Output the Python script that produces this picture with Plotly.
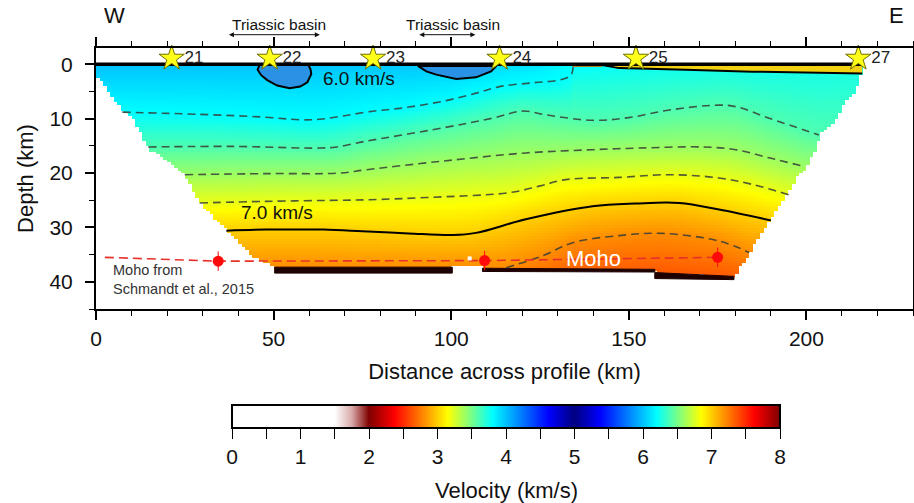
import numpy as np
import plotly.graph_objects as go

# ---------------- data ----------------
station_x = [21.3, 48.9, 78.0, 113.6, 152.0, 214.6]
station_lbl = ["21", "22", "23", "24", "25", "27"]
station_d = -1.1

# isovelocity lines (distance km, depth km)
c62_x = [7.4, 29, 47, 57.5, 63, 69.5, 77, 85.5, 97.6, 107, 113.6, 122.9, 130.4, 133.7, 134.3]
c62_d = [8.8, 9.2, 9.7, 10.2, 10.1, 9.5, 8.7, 8.1, 6.8, 5.3, 4.1, 3.4, 2.9, 2.0, 0.5]
c64_x = [14.7, 38.6, 63, 67.7, 75.5, 97.6, 111.7, 120.1, 126.7, 139.8, 150, 161.4, 175.4, 180.2, 189.5, 203.5]
c64_d = [15.2, 15.1, 15.4, 15.2, 14.2, 11.7, 9.9, 8.6, 9.3, 10.3, 9.8, 8.4, 7.5, 7.8, 9.9, 13.0]
c66_x = [25, 48, 68.6, 76, 97.6, 121, 139.8, 152.9, 170.7, 180.1, 189.5, 199.5]
c66_d = [20.3, 20.1, 20.0, 19.4, 17.8, 16.3, 15.7, 15.4, 15.2, 15.7, 17.2, 18.8]
c68_x = [29.2, 48, 68.6, 77, 93, 116.4, 124.8, 132.3, 147.3, 161.4, 175.4, 184.8, 195.1]
c68_d = [25.5, 25.2, 25.0, 24.9, 24.5, 23.6, 22.4, 21.2, 20.8, 20.3, 20.9, 22.1, 24.0]
c70_x = [36.7, 48, 64, 75, 88, 100.5, 107, 121, 139.8, 152, 164.2, 175.4, 190]
c70_d = [30.6, 30.4, 30.4, 30.7, 31.1, 31.4, 31.0, 28.5, 26.1, 25.6, 25.5, 26.7, 28.7]
c72_x = [115.5, 125.8, 134.2, 147.3, 159.5, 175.4, 183.9]
c72_d = [37.4, 35.2, 32.8, 31.5, 31.1, 32.5, 34.6]

# near-surface velocity (km/s) along the profile and deep value
surf_x = [0, 100, 125, 134.3, 150, 216]
surf_v = [6.0, 6.02, 6.12, 6.2, 6.22, 6.25]
deep_d, deep_v = 45.0, 7.5

# low-velocity pockets (6.0 km/s contour)
p1_x = [46.1, 45.5, 46.5, 48.2, 51, 54.5, 57.5, 59.5, 60.6, 60.4, 59.7, 46.1]
p1_d = [0, 1.0, 2.0, 2.9, 3.9, 4.4, 4.1, 3.3, 1.8, 0.9, 0, 0]
p2_x = [90.6, 93, 95.8, 101.4, 107, 111.2, 112.7, 90.6]
p2_d = [0.3, 1.3, 1.9, 2.7, 2.4, 1.3, 0.3, 0.3]

# model outline
left_d = [0, 2.5, 3.5, 6.9, 10.2, 15.4, 17.5, 20.3, 25.5, 30.7, 35.3, 36.6, 37.2]
left_x = [0, 0.3, 2.0, 5.3, 10.5, 14.7, 19.4, 25.0, 29.2, 37.2, 44.2, 48.0, 50.3]
right_d = [0, 1.7, 3.5, 5.4, 6.9, 8.7, 10.2, 11.5, 13.0, 15.7, 18.8, 20.3, 22.8, 25.2, 27.9, 30.1, 32.5, 35.3, 37.1, 39.6]
right_x = [215.7, 215.7, 214.8, 213.9, 211.0, 209.6, 208.2, 206.8, 204.0, 202.6, 200.3, 197.9, 195.6, 193.2, 190.4, 188.5, 185.7, 183.9, 181.5, 179.6]
bot_x = [50, 100, 101, 108, 109, 157, 158, 180]
bot_d = [37.3, 37.3, 36.9, 36.9, 37.5, 37.7, 38.4, 39.0]

# sediment layer (east)
sed_x = [142.5, 147.3, 166, 184.8, 215.7]
sed_d = [0.15, 0.7, 1.0, 1.35, 1.7]
brown_x = [134.2, 142.5]

# mantle (8 km/s) bars under the model
bar1_x = [50.3, 100.3, 100.3, 50.3, 50.3]
bar1_d = [37.3, 37.3, 38.4, 38.4, 37.3]
bar2_x = [108.8, 157.3, 157.3, 108.8, 108.8]
bar2_d = [37.5, 37.7, 38.2, 38.1, 37.5]
bar3_x = [157.3, 179.6, 179.6, 157.3, 157.3]
bar3_d = [38.3, 39.0, 39.6, 39.4, 38.3]

# Moho from Schmandt et al., 2015
moho_line_x = [2.5, 34.4, 109.4, 175]
moho_line_d = [35.5, 36.2, 36.1, 35.5]
moho_pt_x = [34.4, 109.4, 175]
moho_pt_d = [36.2, 36.1, 35.5]
moho_err = [1.8, 1.8, 1.8]

cbar_ticks = [0, 1, 2, 3, 4, 5, 6, 7, 8]

# ---------------- velocity grid from the isovelocity lines ----------------
contours = [(6.2, c62_x, c62_d), (6.4, c64_x, c64_d), (6.6, c66_x, c66_d),
            (6.8, c68_x, c68_d), (7.0, c70_x, c70_d), (7.2, c72_x, c72_d)]
gx = np.arange(0.5, 216.0, 1.0)
gz = np.arange(0.25, 40.0, 0.5)
V = np.full((len(gz), len(gx)), np.nan)
xl = np.interp(gz, left_d, left_x)
xr = np.interp(gz, right_d, right_x)
for j, x in enumerate(gx):
    kd = [0.0]
    kv = [float(np.interp(x, surf_x, surf_v))]
    for lev, cx, cd in contours:
        if lev == 6.2 and x > max(cx):
            continue
        kd.append(float(np.interp(x, cx, cd)))
        kv.append(lev)
    kd.append(deep_d)
    kv.append(deep_v)
    kd = np.array(kd)
    kv = np.array(kv)
    o = np.argsort(kd)
    col = np.interp(gz, kd[o], kv[o])
    bot = np.interp(x, bot_x, bot_d)
    inside = (x >= xl) & (x <= xr) & (gz <= bot)
    V[inside, j] = col[inside]


def vpos(v):
    return v / 8.0


colorscale = [
    [0.0, "#ffffff"], [vpos(1.5), "#ffffff"], [vpos(1.75), "#d9a9a9"],
    [vpos(2.0), "#800000"], [vpos(2.375), "#ff0000"], [vpos(3.15), "#ffff00"],
    [vpos(3.8), "#00ffff"], [vpos(4.625), "#0000ff"], [vpos(5.0), "#000080"],
    [vpos(5.375), "#0000ff"], [vpos(6.2), "#00ffff"], [vpos(6.85), "#ffff00"],
    [vpos(7.625), "#ff0000"], [1.0, "#800000"],
]

FONT = "Liberation Sans, Arial, Helvetica, sans-serif"
fig = go.Figure()

cb_vals = [v / 2 for v in range(17)]
cb_text = [str(int(v)) if v in cbar_ticks else "" for v in cb_vals]

fig.add_trace(go.Heatmap(
    x=gx, y=gz, z=V, zmin=0, zmax=8, colorscale=colorscale, zsmooth=False,
    hoverinfo="skip",
    colorbar=dict(orientation="h", x=0.502, xanchor="center", y=-0.366, yanchor="top",
                  len=548, lenmode="pixels", thickness=23, thicknessmode="pixels",
                  outlinewidth=2, outlinecolor="black", xpad=0, ypad=0,
                  tickmode="array", tickvals=cb_vals, ticktext=cb_text,
                  ticks="outside", ticklen=10, tickcolor="black", tickwidth=1,
                  tickfont=dict(size=21, color="#111", family=FONT)),
))

# fills
def poly(xs, ds, fc, lc=None, lw=0):
    fig.add_trace(go.Scatter(x=xs, y=ds, mode="lines", fill="toself", fillcolor=fc,
                             line=dict(color=lc if lc else fc, width=lw),
                             hoverinfo="skip", showlegend=False))

poly(p1_x, p1_d, "#2a92e4", "black", 2)
poly(p2_x, p2_d, "#2a92e4", "black", 2)
poly(brown_x + brown_x[::-1], [0, 0, 0.5, 0.5], "#b07a30")
poly(sed_x + sed_x[::-1], [0] * len(sed_x) + sed_d[::-1], "#f2d012")
for bx, bd in [(bar1_x, bar1_d), (bar2_x, bar2_d), (bar3_x, bar3_d)]:
    poly(bx, bd, "#1e0000", "#1e0000", 1)

# sediment base
fig.add_trace(go.Scatter(x=sed_x, y=sed_d, mode="lines", line=dict(color="black", width=2),
                         hoverinfo="skip", showlegend=False))

# contour lines
for lev, cx, cd in contours:
    if abs(lev - 7.0) < 1e-6:
        ln = dict(color="black", width=2, shape="spline")
    else:
        ln = dict(color="rgba(55,60,55,0.85)", width=1.6, dash="8px,5px", shape="spline")
    fig.add_trace(go.Scatter(x=cx, y=cd, mode="lines", line=ln, hoverinfo="skip",
                             showlegend=False))

# model surface
fig.add_trace(go.Scatter(x=[0, 215.7], y=[0, 0], mode="lines",
                         line=dict(color="black", width=3.5), hoverinfo="skip", showlegend=False))

# Moho
fig.add_trace(go.Scatter(x=moho_line_x, y=moho_line_d, mode="lines",
                         line=dict(color="#e8302a", width=1.6, dash="9px,5px"),
                         hoverinfo="skip", showlegend=False))
fig.add_trace(go.Scatter(x=moho_pt_x, y=moho_pt_d, mode="markers",
                         marker=dict(color="#ff0a0a", size=11),
                         error_y=dict(type="data", array=moho_err, color="#ff0a0a",
                                      thickness=1, width=0),
                         hoverinfo="skip", showlegend=False))
fig.add_trace(go.Scatter(x=[105.2], y=[35.7], mode="markers",
                         marker=dict(color="white", size=4, symbol="square"),
                         hoverinfo="skip", showlegend=False))

# stations
fig.add_trace(go.Scatter(x=station_x, y=[station_d] * len(station_x), mode="markers+text",
                         marker=dict(symbol="star", size=19, color="#ffff1a",
                                     line=dict(color="#707000", width=1)),
                         text=station_lbl, textposition="middle right",
                         textfont=dict(size=17, color="#222", family=FONT),
                         cliponaxis=False, hoverinfo="skip", showlegend=False))

ann = []
def txt(x, y, t, size, color="#111", xref="x", yref="y", xanchor="center"):
    ann.append(dict(x=x, y=y, xref=xref, yref=yref, text=t, showarrow=False,
                    xanchor=xanchor, yanchor="middle", align="left",
                    font=dict(size=size, color=color, family=FONT)))

txt(74.1, 2.7, "6.0 km/s", 19)
txt(51.0, 27.3, "7.0 km/s", 19)
txt(140, 35.7, "Moho", 22, color="white")
txt(4.2, 39.5, "Moho from<br>Schmandt et al., 2015", 14.5, color="#333", xanchor="left")
txt(0.023, 1.125, "W", 22, xref="paper", yref="paper")
txt(0.980, 1.125, "E", 22, xref="paper", yref="paper")
# colorbar title
txt(0.502, -0.696, "Velocity (km/s)", 22, xref="paper", yref="paper")
for cx_, a0, a1 in [(51.4, 37.0, 63.0), (100.5, 90.6, 106.8)]:
    txt(cx_, 1.091, "Triassic basin", 15.5, yref="paper")
    ann.append(dict(x=a1, y=1.051, xref="x", yref="paper", ax=a0, ay=0, axref="x",
                    ayref="pixel", text="", showarrow=True, arrowhead=2,
                    arrowside="end+start", arrowsize=1, arrowwidth=1, arrowcolor="#111"))

fig.update_layout(
    width=914, height=503, autosize=False,
    margin=dict(l=96, r=1, t=48, b=194, autoexpand=False),
    paper_bgcolor="white", plot_bgcolor="white",
    font=dict(family=FONT, color="#111"),
    showlegend=False,
    annotations=ann,
    xaxis=dict(range=[0, 230], tickmode="array", tickvals=[0, 50, 100, 150, 200],
               ticks="outside", ticklen=9, tickwidth=1.5, tickcolor="black",
               showline=True, linewidth=2, linecolor="black", mirror="ticks",
               showgrid=False, zeroline=False, ticklabelstandoff=1, automargin=False,
               minor=dict(tick0=0, dtick=10, ticks="outside", ticklen=5, tickwidth=1.2,
                          tickcolor="black", showgrid=False),
               tickfont=dict(size=21, family=FONT, color="#111"),
               title=dict(text="Distance across profile (km)", standoff=14,
                          font=dict(size=22, family=FONT, color="#111"))),
    yaxis=dict(range=[45, -3], tickmode="array", tickvals=[0, 10, 20, 30, 40],
               ticks="outside", ticklen=9, tickwidth=1.5, tickcolor="black",
               showline=True, linewidth=2, linecolor="black", mirror=True,
               showgrid=False, zeroline=False, ticklabelstandoff=8, automargin=False,
               minor=dict(tick0=0, dtick=5, ticks="outside", ticklen=5, tickwidth=1.2,
                          tickcolor="black", showgrid=False),
               tickfont=dict(size=21, family=FONT, color="#111"),
               title=dict(text="Depth (km)", standoff=10,
                          font=dict(size=22, family=FONT, color="#111"))),
)

fig.write_html("out.html", config={"displayModeBar": False},
               post_script="document.body.style.margin='0px';document.body.style.overflow='hidden';")
